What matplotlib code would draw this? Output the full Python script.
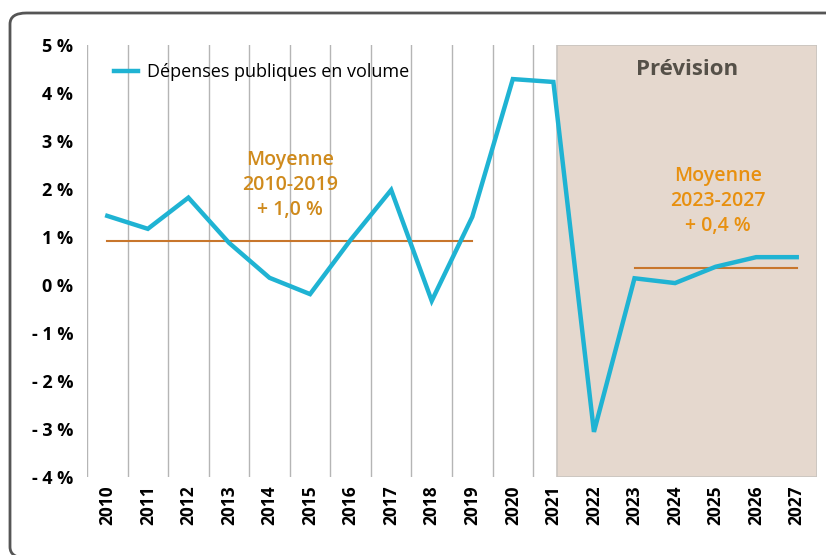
import matplotlib.pyplot as plt
from matplotlib.patches import FancyBboxPatch, Rectangle

plt.rcParams['font.family'] = ['Open Sans', 'DejaVu Sans']

years = [str(y) for y in range(2010, 2028)]
depenses = [1.44, 1.17, 1.82, 0.88, 0.15, -0.19, 0.94, 1.98, -0.33, 1.42,
            4.29, 4.23, -3.06, 0.14, 0.04, 0.38, 0.58, 0.58]
moy_2010_2019 = 0.92
moy_2023_2027 = 0.35
y_ticks = [5, 4, 3, 2, 1, 0, -1, -2, -3, -4]
y_labels = ['5 %', '4 %', '3 %', '2 %', '1 %', '0 %', '- 1 %', '- 2 %', '- 3 %', '- 4 %']

blue = '#1fb3d3'
orange = '#c8762c'
gold = '#cf8a1c'

fig = plt.figure(figsize=(8.26, 5.55), dpi=100)

# cadre arrondi (coupé en bas et à droite)
frame = FancyBboxPatch((10 / 826, -3 / 555), 1.05, 1 - 10 / 555,
                       boxstyle='round,pad=0,rounding_size=0.02',
                       transform=fig.transFigure, fill=False,
                       edgecolor='#555555', linewidth=2)
fig.patches.append(frame)

ax = fig.add_axes([87 / 826, 1 - 477 / 555, 730 / 826, 432 / 555])
x = list(range(len(years)))
ax.set_xlim(-0.5, len(years) - 0.5)
ax.set_ylim(-4, 5)

# zone de prévision
ax.add_patch(Rectangle((11.1, -4), 6.4, 9, facecolor='#e5d8ce',
                       edgecolor='#c9c4bf', linewidth=1.2, zorder=0))
ax.text(14.3, 4.48, 'Prévision', ha='center', va='center', fontsize=16,
        fontweight='bold', color='#555048')

# séparateurs verticaux
for k in range(12):
    ax.axvline(k - 0.5, color='#b5b5b5', linewidth=1, zorder=1)

# moyennes
ax.plot([0, 9], [moy_2010_2019] * 2, color=orange, linewidth=1.5, zorder=2)
ax.plot([13, 17], [moy_2023_2027] * 2, color=orange, linewidth=1.5, zorder=2)
ax.text(4.5, 2.08, 'Moyenne\n2010-2019\n+ 1,0 %', ha='center', va='center',
        fontsize=14, fontweight='semibold', color=gold, linespacing=1.35)
ax.text(15.05, 1.75, 'Moyenne\n2023-2027\n+ 0,4 %', ha='center', va='center',
        fontsize=14, fontweight='semibold', color='#e8900f', linespacing=1.3)

ax.plot(x, depenses, color=blue, linewidth=3.2, zorder=3,
        solid_joinstyle='miter', label='Dépenses publiques en volume')

leg = ax.legend(loc='upper left', bbox_to_anchor=(0.015, 0.995), frameon=False,
                fontsize=13, handlelength=1.3, handletextpad=0.5)

ax.set_xticks(x)
ax.set_xticklabels(years, rotation=90, fontsize=12.5, fontweight='bold')
ax.set_yticks(y_ticks)
ax.set_yticklabels(y_labels, fontsize=13, fontweight='bold')
ax.tick_params(length=0, pad=6)
ax.tick_params(axis='y', pad=10)
for s in ax.spines.values():
    s.set_visible(False)
ax.set_facecolor('none')

fig.savefig('out.png', dpi=100)
